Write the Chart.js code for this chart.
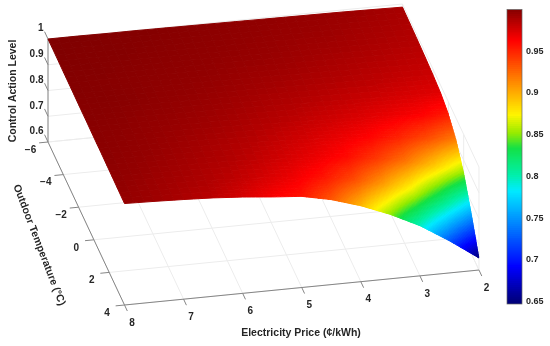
<!DOCTYPE html>
<html>
<head>
<meta charset="utf-8">
<style>
  html, body { margin: 0; padding: 0; background: #fff; }
  #wrap { position: relative; width: 550px; height: 346px; overflow: hidden; }
  #surface { position: absolute; left: 0; top: 0; }
  #colorbar { position: absolute; left: 490px; top: 0; }
</style>
<script src="https://cdn.jsdelivr.net/npm/chart.js@4"></script>
</head>
<body>
<div id="wrap">
  <canvas id="surface" width="550" height="346"></canvas>
  <canvas id="colorbar" width="60" height="346"></canvas>
</div>
<script>
// values, one row per outdoor temperature
const prices = [2, 2.5, 3, 3.5, 4, 4.5, 5, 5.5, 6, 6.5, 7, 7.5, 8];
const temps = [-6, -5, -4, -3, -2, -1, 0, 1, 2, 3, 4];
const levelTempM6 = [.988, .990, .992, .993, .994, .995, .996, .997, .998, .999, .999, 1.0, 1.0];
const levelTempM5 = [.986, .988, .990, .992, .993, .994, .995, .996, .997, .998, .999, .999, 1.0];
const levelTempM4 = [.984, .986, .988, .990, .991, .993, .994, .995, .996, .997, .998, .999, .999];
const levelTempM3 = [.981, .983, .985, .987, .989, .991, .992, .994, .995, .996, .997, .998, .999];
const levelTempM2 = [.977, .979, .982, .984, .986, .988, .990, .992, .994, .995, .997, .998, .998];
const levelTempM1 = [.970, .973, .976, .979, .982, .985, .987, .990, .992, .994, .995, .997, .998];
const levelTemp0 = [.952, .962, .967, .972, .976, .980, .984, .987, .990, .992, .994, .996, .997];
const levelTemp1 = [.915, .935, .950, .961, .968, .974, .979, .984, .987, .990, .993, .995, .997];
const levelTemp2 = [.850, .888, .920, .942, .958, .967, .974, .980, .985, .988, .991, .994, .996];
const levelTemp3 = [.755, .815, .867, .905, .935, .954, .966, .974, .981, .986, .989, .992, .995];
const levelTemp4 = [.647, .725, .795, .850, .895, .930, .954, .963, .974, .982, .987, .991, .994];
const levels = [levelTempM6, levelTempM5, levelTempM4, levelTempM3, levelTempM2, levelTempM1,
  levelTemp0, levelTemp1, levelTemp2, levelTemp3, levelTemp4];

const priceTicks = [8, 7, 6, 5, 4, 3, 2];
const tempTicks = [-6, -4, -2, 0, 2, 4];
const levelTicks = [0.6, 0.7, 0.8, 0.9, 1];
const colorTicks = [0.65, 0.7, 0.75, 0.8, 0.85, 0.9, 0.95];
const colorMin = 0.647;
const colorMax = 1;

// colormap, bottom to top
const cmapLevels = [0.647, 0.69, 0.781, 0.80, 0.832, 0.85, 0.872, 0.961, 1];
const cmapColors = [
  [0, 0, 120], [0, 0, 255], [0, 235, 255], [0, 240, 170], [20, 225, 70],
  [150, 235, 0], [255, 245, 0], [255, 0, 0], [128, 0, 0]
];

const gridColor = '#ececec';
const axisColor = '#858585';
const textColor = '#262626';

// parallel projection of the 3D box onto the page
function project(price, temp, level) {
  return {
    x: 48 + (8 - price) * 59.08 + (temp + 6) * 7.65,
    y: 142 - (8 - price) * 5.83 + (temp + 6) * 16.3 - (level - 0.6) * 257.5
  };
}

function levelColor(v) {
  let k = 0;
  while (k < cmapLevels.length - 2 && v > cmapLevels[k + 1]) k++;
  const f = Math.max(0, Math.min(1, (v - cmapLevels[k]) / (cmapLevels[k + 1] - cmapLevels[k])));
  const c = cmapColors[k].map((low, n) => Math.round(low + (cmapColors[k + 1][n] - low) * f));
  return `rgb(${c[0]},${c[1]},${c[2]})`;
}

function lineSet(points, color, width) {
  return {
    data: points,
    showLine: true,
    borderColor: color,
    borderWidth: width,
    pointRadius: 0,
    fill: false,
    clip: false
  };
}
function line3d(a, b, color, width) {
  return lineSet([project(...a), project(...b)], color, width);
}

const datasets = [];

// floor grid
priceTicks.forEach(p => datasets.push(line3d([p, -6, 0.6], [p, 4, 0.6], gridColor, 1)));
tempTicks.forEach(t => datasets.push(line3d([8, t, 0.6], [2, t, 0.6], gridColor, 1)));
// back walls
levelTicks.forEach(v => {
  datasets.push(line3d([8, -6, v], [2, -6, v], gridColor, 1));
  datasets.push(line3d([2, -6, v], [2, 4, v], gridColor, 1));
});
priceTicks.forEach(p => datasets.push(line3d([p, -6, 0.6], [p, -6, 1], gridColor, 1)));
tempTicks.forEach(t => datasets.push(line3d([2, t, 0.6], [2, t, 1], gridColor, 1)));

// axes and tick marks
datasets.push(line3d([8, -6, 0.6], [8, -6, 1], axisColor, 1));
datasets.push(line3d([8, -6, 0.6], [8, 4, 0.6], axisColor, 1));
datasets.push(line3d([8, 4, 0.6], [2, 4, 0.6], axisColor, 1));
levelTicks.forEach(v => datasets.push(line3d([8, -6, v], [8, -6.45, v], axisColor, 1)));
tempTicks.forEach(t => datasets.push(line3d([8, t, 0.6], [8.15, t, 0.6], axisColor, 1)));
priceTicks.forEach(p => datasets.push(line3d([p, 4, 0.6], [p, 4.37, 0.6], axisColor, 1)));

// surface, interpolated shading inside each table cell
// steep cells get more shading steps than the flat dark red ones
function levelAt(i, j, u, w) {
  return levels[i][j] * (1 - u) * (1 - w) + levels[i][j + 1] * (1 - u) * w +
    levels[i + 1][j] * u * (1 - w) + levels[i + 1][j + 1] * u * w;
}
for (let i = 0; i < temps.length - 1; i++) {
  for (let j = 0; j < prices.length - 1; j++) {
    const cell = [levels[i][j], levels[i][j + 1], levels[i + 1][j], levels[i + 1][j + 1]];
    const range = Math.max(...cell) - Math.min(...cell);
    const steps = Math.max(3, Math.min(26, Math.ceil(range / 0.003)));
    for (let a = 0; a < steps; a++) {
      for (let b = 0; b < steps; b++) {
        const u0 = a / steps, u1 = (a + 1) / steps;
        const w0 = b / steps, w1 = (b + 1) / steps;
        const corner = (u, w) => project(
          prices[j] + w * (prices[j + 1] - prices[j]),
          temps[i] + u * (temps[i + 1] - temps[i]),
          levelAt(i, j, u, w));
        const color = levelColor(levelAt(i, j, (u0 + u1) / 2, (w0 + w1) / 2));
        const quad = [corner(u0, w0), corner(u0, w1), corner(u1, w1), corner(u1, w0), corner(u0, w0)];
        datasets.push({
          data: quad,
          showLine: true,
          borderColor: color,
          backgroundColor: color,
          borderWidth: 1,
          borderJoinStyle: 'round',
          pointRadius: 0,
          fill: 'shape',
          clip: false
        });
      }
    }
  }
}
// chart.js paints the first dataset last, so the grid has to go to the back
datasets.reverse();

const axisText = {
  id: 'axisText',
  afterDraw(chart) {
    const { ctx, scales } = chart;
    const put = (text, x, y, align, angle) => {
      ctx.save();
      ctx.translate(scales.x.getPixelForValue(x), scales.y.getPixelForValue(y));
      ctx.rotate((angle || 0) * Math.PI / 180);
      ctx.textAlign = align;
      ctx.textBaseline = 'middle';
      ctx.fillText(text, 0, 0);
      ctx.restore();
    };
    ctx.save();
    ctx.fillStyle = textColor;
    ctx.font = 'bold 10px "Liberation Sans", Arial, sans-serif';
    levelTicks.forEach(v => {
      const p = project(8, -6, v);
      put(String(v), p.x - 4.5, p.y - 10.5, 'right');
    });
    tempTicks.forEach(t => {
      const p = project(8, t, 0.6);
      put(String(t).replace('-', '\u2212'), p.x - 17.5, p.y + 8, 'center');
    });
    priceTicks.forEach(v => {
      const p = project(v, 4, 0.6);
      put(String(v), p.x + 7.5, p.y + 18, 'center');
    });
    ctx.font = 'bold 10.5px "Liberation Sans", Arial, sans-serif';
    put('Control Action Level', 13, 91, 'center', -90);
    put('Outdoor Temperature (\u00b0C)', 39, 245, 'center', 69);
    put('Electricity Price (\u00a2/kWh)', 301, 333, 'center', 0);
    ctx.restore();
  }
};

new Chart(document.getElementById('surface'), {
  type: 'scatter',
  data: { datasets: datasets },
  options: {
    responsive: false,
    animation: false,
    events: [],
    layout: { padding: 0 },
    plugins: { legend: { display: false }, tooltip: { enabled: false } },
    scales: {
      x: { type: 'linear', min: 0, max: 550, display: false },
      y: { type: 'linear', min: 0, max: 346, reverse: true, display: false }
    }
  },
  plugins: [axisText]
});

// colorbar
const barSteps = 150;
const barSets = [];
for (let k = 0; k < barSteps; k++) {
  const lo = colorMin + (colorMax - colorMin) * k / barSteps;
  const hi = colorMin + (colorMax - colorMin) * (k + 1.5) / barSteps;
  barSets.push({
    data: [[lo, Math.min(hi, colorMax)]],
    backgroundColor: levelColor(colorMin + (colorMax - colorMin) * (k + 0.5) / barSteps),
    borderWidth: 0,
    barPercentage: 1,
    categoryPercentage: 1
  });
}

const barFrame = {
  id: 'barFrame',
  afterDatasetsDraw(chart) {
    const { ctx, chartArea: a } = chart;
    ctx.save();
    ctx.strokeStyle = '#666';
    ctx.lineWidth = 0.7;
    ctx.strokeRect(a.left, a.top, a.right - a.left, a.bottom - a.top);
    ctx.restore();
  }
};

new Chart(document.getElementById('colorbar'), {
  type: 'bar',
  data: { labels: [''], datasets: barSets },
  options: {
    responsive: false,
    animation: false,
    events: [],
    layout: { padding: { left: 17, top: 5, bottom: 42, right: 0 } },
    plugins: { legend: { display: false }, tooltip: { enabled: false } },
    scales: {
      x: { stacked: true, display: false },
      y: {
        position: 'right',
        min: colorMin,
        max: colorMax,
        afterBuildTicks: s => { s.ticks = colorTicks.map(v => ({ value: v })); },
        afterFit: s => { s.width = 28; },
        border: { display: false },
        grid: { drawOnChartArea: false, drawTicks: false },
        ticks: {
          padding: 4,
          color: textColor,
          font: { family: '"Liberation Sans", Arial, sans-serif', size: 9, weight: 'bold' },
          callback: v => String(v)
        }
      }
    }
  },
  plugins: [barFrame]
});
</script>
</body>
</html>
